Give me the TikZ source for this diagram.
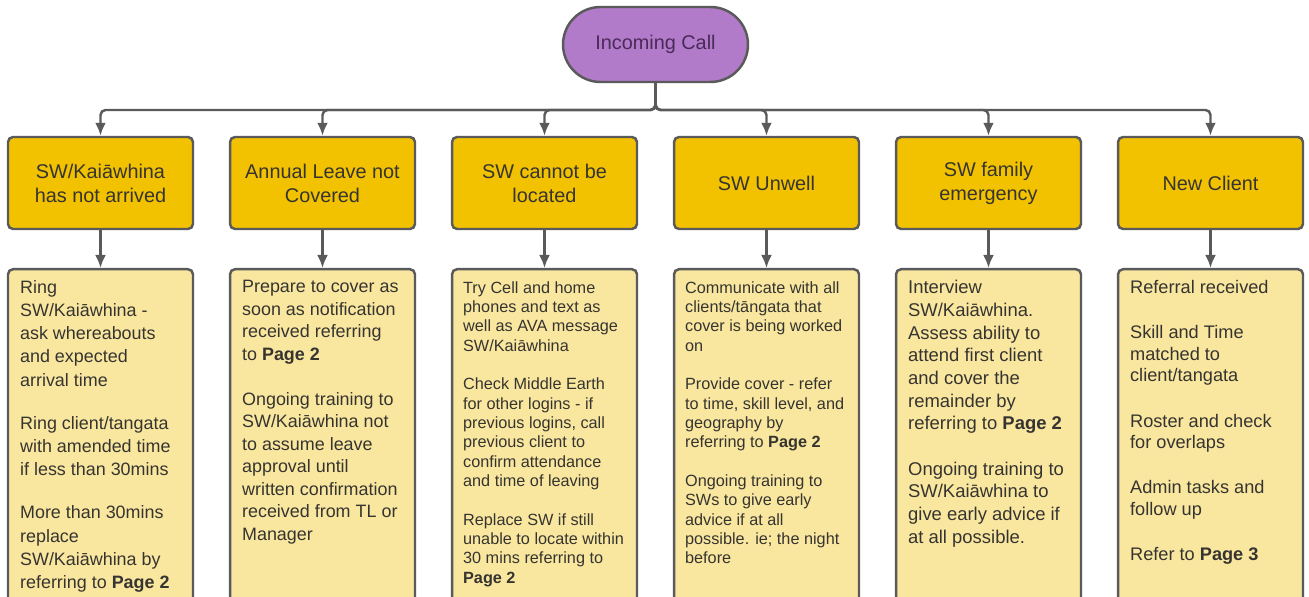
\documentclass[tikz,border=0pt]{standalone}
\usepackage{fontspec}
\setmainfont{Liberation Sans}
\usetikzlibrary{arrows.meta,calc}
\definecolor{callfill}{HTML}{B27BC9}
\definecolor{calltext}{HTML}{4A2A58}
\definecolor{headfill}{HTML}{F2C200}
\definecolor{bodyfill}{HTML}{F9E7A0}
\definecolor{edgegray}{HTML}{5A5A5A}
\definecolor{inkgray}{HTML}{363430}
\begin{document}
\begin{tikzpicture}[x=0.02cm, y=-0.02cm,
        start/.style={rectangle, draw=edgegray, line width=1.4pt, fill=callfill, rounded corners=0.75cm, minimum width=3.7cm, minimum height=1.5cm, text=calltext, font=\fontsize{11.3pt}{13.6pt}\selectfont},
        head/.style={rectangle, draw=edgegray, line width=1.4pt, fill=headfill, rounded corners=0.1cm, minimum width=3.7cm, minimum height=1.84cm, align=center, text=inkgray, font=\fontsize{11.3pt}{13.6pt}\selectfont},
        body/.style={rectangle, draw=edgegray, line width=1.4pt, fill=bodyfill, rounded corners=0.1cm, minimum width=3.7cm, minimum height=7.6cm, anchor=north},
        note/.style={anchor=north west, inner sep=0pt, align=left, text=inkgray, font=\fontsize{10.2pt}{13.2pt}\selectfont},
        small/.style={font=\fontsize{9.25pt}{11pt}\selectfont},
        conn/.style={draw=edgegray, line width=1.4pt, rounded corners=0.1cm, -{Latex[length=0.26cm,width=0.22cm]}}
    ]
        \useasboundingbox (0,0) rectangle (1309,597);
        \clip (0,0) rectangle (1309,597);

        % start node
        \node[start] (call) at (655.5,44.5) {Incoming Call};
        \coordinate (bus) at (655.5,110);

        % cases
        \node[head] (h1) at (100.5,183) {SW/Kaiāwhina\\has not arrived};
        \node[head] (h2) at (322.5,183) {Annual Leave not\\Covered};
        \node[head] (h3) at (544.5,183) {SW cannot be\\located};
        \node[head] (h4) at (766.5,183) {SW Unwell};
        \node[head] (h5) at (988.5,183) {SW family\\emergency};
        \node[head] (h6) at (1210.5,183) {New Client};

        % actions
        \node[body] (b1) at (100.5,268) {};
        \node[body] (b2) at (322.5,268) {};
        \node[body] (b3) at (544.5,268) {};
        \node[body] (b4) at (766.5,268) {};
        \node[body] (b5) at (988.5,268) {};
        \node[body] (b6) at (1210.5,268) {};

        \node[note] (t1) at ($(b1.north west)+(13,12)$) {Ring\\SW/Kaiāwhina -\\ask whereabouts\\and expected\\arrival time\\[11.4pt]Ring client/tangata\\with amended time\\if less than 30mins\\[11.4pt]More than 30mins\\replace\\SW/Kaiāwhina by\\referring to \textbf{Page 2}};
        \node[note, font=\fontsize{10.2pt}{12.8pt}\selectfont] (t2) at ($(b2.north west)+(13,12)$) {Prepare to cover as\\soon as notification\\received referring\\to \textbf{Page 2}\\[12.8pt]Ongoing training to\\SW/Kaiāwhina not\\to assume leave\\approval until\\written confirmation\\received from TL or\\Manager};
        \node[note, small] (t3) at ($(b3.north west)+(12,13)$) {Try Cell and home\\phones and text as\\well as AVA message\\SW/Kaiāwhina\\[11pt]Check Middle Earth\\for other logins - if\\previous logins, call\\previous client to\\confirm attendance\\and time of leaving\\[11pt]Replace SW if still\\unable to locate within\\30 mins referring to\\\textbf{Page 2}};
        \node[note, small] (t4) at ($(b4.north west)+(12,13)$) {Communicate with all\\clients/tāngata that\\cover is being worked\\on\\[11pt]Provide cover - refer\\to time, skill level, and\\geography by\\referring to \textbf{Page 2}\\[11pt]Ongoing training to\\SWs to give early\\advice if at all\\possible. ie; the night\\before};
        \node[note, font=\fontsize{10.5pt}{12.9pt}\selectfont] (t5) at ($(b5.north west)+(13,12)$) {Interview\\SW/Kaiāwhina.\\Assess ability to\\attend first client\\and cover the\\remainder by\\referring to \textbf{Page 2}\\[12.9pt]Ongoing training to\\SW/Kaiāwhina to\\give early advice if\\at all possible.};
        \node[note, font=\fontsize{10.35pt}{12.3pt}\selectfont] (t6) at ($(b6.north west)+(13,12)$) {Referral received\\[13.4pt]Skill and Time\\matched to\\client/tangata\\[13.4pt]Roster and check\\for overlaps\\[13.4pt]Admin tasks and\\follow up\\[13.4pt]Refer to \textbf{Page 3}};

        % connectors
        \draw[conn] (call.south) -- (bus) -| (h1.north);
        \draw[conn] (call.south) -- (bus) -| (h2.north);
        \draw[conn] (call.south) -- (bus) -| (h3.north);
        \draw[conn] (call.south) -- (bus) -| (h4.north);
        \draw[conn] (call.south) -- (bus) -| (h5.north);
        \draw[conn] (call.south) -- (bus) -| (h6.north);

        \draw[conn] (h1) -- (b1);
        \draw[conn] (h2) -- (b2);
        \draw[conn] (h3) -- (b3);
        \draw[conn] (h4) -- (b4);
        \draw[conn] (h5) -- (b5);
        \draw[conn] (h6) -- (b6);
    \end{tikzpicture}
\end{document}
